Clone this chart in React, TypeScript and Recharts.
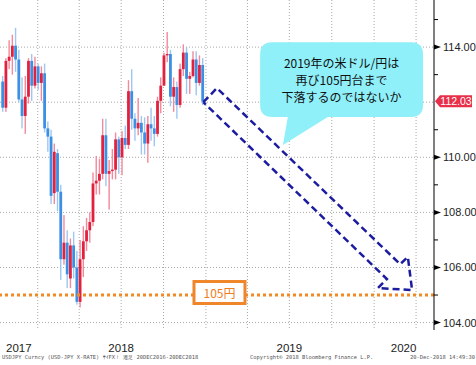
import React from 'react';
import {
  ComposedChart,
  Bar,
  Line,
  XAxis,
  YAxis,
  CartesianGrid,
  ReferenceLine,
  ReferenceArea,
  ReferenceDot,
} from 'recharts';

// Weekly USD/JPY candles, week of 2017-10-09 .. week of 2018-12-17
const openValues = [112.75,111.8,113.5,113.65,114.05,113.55,112.1,111.5,112.2,113.5,112.6,113.3,112.7,113.05,111.05,110.75,108.7,110.15,108.75,106.3,106.9,105.6,106.8,106.0,104.75,106.3,106.95,107.35,107.65,109.05,109.15,109.4,110.8,109.4,109.5,109.55,110.65,110.0,110.7,110.45,112.4,111.4,111.05,111.25,110.9,110.5,111.2,111.05,110.85,112.05,112.6,113.7,113.75,112.2,112.55,111.9,113.2,113.8,112.85,112.95,113.55,112.7,113.35];
const highValues = [112.95,113.6,114.25,114.45,114.7,113.9,112.9,112.95,113.6,113.75,113.65,113.4,113.3,113.4,111.3,111.0,110.5,110.3,109.0,107.9,107.35,107.05,107.3,106.6,107.0,107.5,107.8,108.0,109.45,110.05,109.95,111.4,111.4,109.9,110.3,110.9,110.75,110.95,111.15,112.8,113.2,111.6,112.15,111.5,111.45,111.5,111.8,111.5,112.2,112.9,113.8,114.55,113.9,112.9,112.75,113.4,114.1,114.0,113.1,113.85,113.85,113.7,113.6];
const lowValues = [111.65,111.65,113.2,113.0,113.1,112.0,111.05,110.85,111.95,112.05,112.5,112.45,112.05,110.9,110.2,108.3,108.3,108.05,105.55,106.1,105.25,105.25,105.6,104.65,104.55,105.65,106.6,106.9,107.5,108.65,108.65,109.2,108.95,108.1,109.2,109.2,109.4,109.35,110.3,110.3,111.0,110.6,110.8,110.1,110.1,109.8,110.6,110.4,110.75,111.6,112.6,113.45,111.85,111.65,111.4,111.8,112.95,112.3,112.3,112.9,112.25,112.6,111.9];
const closeValues = [111.8,113.5,113.65,114.05,113.55,112.1,111.5,112.2,113.5,112.6,113.3,112.7,113.05,111.05,110.75,108.6,110.2,108.75,106.3,106.9,105.75,106.8,106.0,104.75,106.3,106.95,107.35,107.65,109.05,109.15,109.4,110.8,109.4,109.5,109.55,110.65,110.0,110.7,110.45,112.4,111.4,111.05,111.25,110.9,110.5,111.2,111.05,110.85,112.05,112.6,113.7,113.75,112.2,112.55,111.9,113.2,113.8,112.85,112.95,113.55,112.7,113.35,112.03];

// Axis setup (x = week index)
const origin = '2017-10-17';
const xDomain: [number, number] = [-0.84, 133.7];
const yDomain: [number, number] = [103.73, 115.71];
const quarterStarts = ['2018-01-01','2018-04-01','2018-07-01','2018-10-01','2019-01-01','2019-04-01','2019-07-01','2019-10-01','2020-01-01','2020-04-01'];
const yearLabels = ['2017','2018','2019','2020'];
const yearLabelDates = ['2017-11-21','2018-07-01','2019-07-01','2020-03-05'];
const majorTicks = [104, 106, 108, 110, 112, 114];
const minorTicks = [105, 107, 109, 111, 113, 115];

// Annotations
const targetLevel = 105;
const targetLabel = '105円';
const targetLabelX = 67.2;
const calloutLines = ['2019年の米ドル/円は', '再び105円台まで', '下落するのではないか'];
const calloutBox = { x1: 79.8, x2: 130.3, y1: 111.46, y2: 114.18 };
const arrowPoints = [
  { x: 62.2, y: 112.0 },
  { x: 66.4, y: 112.51 },
  { x: 123.2, y: 106.12 },
  { x: 125.6, y: 106.38 },
  { x: 126.9, y: 105.18 },
  { x: 116.3, y: 105.25 },
  { x: 119.1, y: 105.58 },
  { x: 62.2, y: 112.0 },
];
const footerLeft = 'USDJPY Curncy (USD-JPY X-RATE) ｻｲFX！ 週足 20DEC2016-20DEC2018';
const footerMid = 'Copyright© 2018 Bloomberg Finance L.P.';
const footerRight = '20-Dec-2018 14:49:30';

const DAY = 86400000;
const toIdx = (d: string) => (Date.parse(d) - Date.parse(origin)) / (7 * DAY);

const candles = openValues.map((o, i) => ({
  x: i,
  open: o,
  high: highValues[i],
  low: lowValues[i],
  close: closeValues[i],
}));
const lastClose = closeValues[closeValues.length - 1];
const yTicks = [...majorTicks, ...minorTicks, lastClose];
const yearTickValues = yearLabelDates.map(toIdx);
const gridX = quarterStarts.map(toIdx);

const UP_BODY = '#e2213f';
const UP_WICK = '#f2899a';
const DN_BODY = '#3d8fe3';
const DN_WICK = '#9dc7f1';

const Candle = (props: any) => {
  const { x, y, width, height, payload } = props;
  if (height == null || !payload) return null;
  const { open, high, low, close } = payload;
  const cx = x + width / 2;
  const ratio = height / (high - low);
  const yO = y + (high - open) * ratio;
  const yC = y + (high - close) * ratio;
  const up = close >= open;
  const top = Math.min(yO, yC);
  const bh = Math.max(1, Math.abs(yC - yO));
  return (
    <g>
      <rect x={cx - 0.7} y={y} width={1.4} height={height} fill={up ? UP_WICK : DN_WICK} />
      <rect x={cx - 1.4} y={top} width={2.8} height={bh} fill={up ? UP_BODY : DN_BODY} />
    </g>
  );
};

const axisFont = "'Liberation Sans Narrow', 'Arial Narrow', 'Liberation Sans', sans-serif";

const YTick = (props: any) => {
  const { x, y, payload } = props;
  const v = payload.value;
  if (v === lastClose) {
    return (
      <g>
        <polygon points={`${x + 1},${y} ${x + 6},${y - 6} ${x + 38},${y - 6} ${x + 38},${y + 6} ${x + 6},${y + 6}`} fill="#e8304a" />
        <text x={x + 22} y={y} textAnchor="middle" dominantBaseline="central" fill="#fff" fontSize={10.5} fontFamily={axisFont}>
          {v.toFixed(2)}
        </text>
      </g>
    );
  }
  if (minorTicks.includes(v)) {
    return <line x1={x} x2={x + 4} y1={y} y2={y} stroke="#000" strokeWidth={1} />;
  }
  if (Math.abs(v - lastClose) < 0.5) {
    // hidden behind the last-price tag
    return <g />;
  }
  return (
    <g>
      <polygon points={`${x},${y - 2.5} ${x + 7},${y} ${x},${y + 2.5}`} fill="#000" />
      <text x={x + 9} y={y} dominantBaseline="central" fill="#222" fontSize={11} fontFamily={axisFont}>
        {v.toFixed(2)}
      </text>
    </g>
  );
};

const XTick = (props: any) => {
  const { x, y, payload, index } = props;
  return (
    <text x={x} y={y + 18} textAnchor="middle" dominantBaseline="central" fill="#222" fontSize={11.5} fontFamily={axisFont}>
      {yearLabels[index] ?? String(payload.value)}
    </text>
  );
};

const Callout = (props: any) => {
  const { x, y, width: w, height: h } = props;
  if (x == null) return null;
  const r = 12;
  const tailL = x + w * 0.17;
  const tailR = x + w * 0.415;
  const tipX = x + w * 0.14;
  const tipY = y + h + 28;
  const d = `M${x + r},${y} H${x + w - r} Q${x + w},${y} ${x + w},${y + r} V${y + h - r} Q${x + w},${y + h} ${x + w - r},${y + h} H${tailR} L${tipX},${tipY} L${tailL},${y + h} H${x + r} Q${x},${y + h} ${x},${y + h - r} V${y + r} Q${x},${y} ${x + r},${y} Z`;
  return (
    <g>
      <path d={d} fill="#8ff0f9" />
      {calloutLines.map((t, k) => (
        <text key={k} x={x + w / 2} y={y + h / 2 + (k - 1) * 17} textAnchor="middle" dominantBaseline="central" fill="#111" fontSize={12} fontFamily="'Noto Sans CJK JP', sans-serif">
          {t}
        </text>
      ))}
    </g>
  );
};

const TargetBox = (props: any) => {
  const { cx, cy } = props;
  if (cx == null) return null;
  return (
    <g>
      <rect x={cx - 25.5} y={cy - 13.5} width={51} height={22} fill="#fff" stroke="#f0862a" strokeWidth={3} />
      <text x={cx} y={cy - 2.5} textAnchor="middle" dominantBaseline="central" fill="#ee7d22" fontSize={12} fontFamily="'Noto Sans CJK JP', sans-serif">
        {targetLabel}
      </text>
    </g>
  );
};

export default function App() {
  return (
    <div style={{ position: 'absolute', left: 0, top: 0, width: 476, height: 365, background: '#fff' }}>
      <ComposedChart width={476} height={365} data={candles} margin={{ top: 0, right: 0, bottom: 0, left: 0 }}>
        <CartesianGrid
          stroke="#a8a8a8"
          strokeDasharray="1 2"
          horizontalValues={majorTicks}
          verticalValues={gridX}
        />
        <XAxis
          dataKey="x"
          type="number"
          domain={xDomain}
          allowDataOverflow
          ticks={yearTickValues}
          interval={0}
          axisLine={false}
          tickLine={false}
          tickSize={0}
          tickMargin={0}
          height={35}
          tick={<XTick />}
        />
        <YAxis
          orientation="right"
          type="number"
          domain={yDomain}
          allowDataOverflow
          ticks={yTicks}
          interval={0}
          width={42}
          axisLine={{ stroke: '#000' }}
          tickLine={false}
          tickSize={0}
          tickMargin={0}
          tick={<YTick />}
        />
        <Bar
          dataKey={(d: any) => [d.low, d.high]}
          barSize={3}
          shape={<Candle />}
          isAnimationActive={false}
        />
        <ReferenceLine y={targetLevel} stroke="#f08a24" strokeWidth={3} strokeDasharray="3 3" />
        <ReferenceDot x={targetLabelX} y={targetLevel} r={1} shape={<TargetBox />} />
        <Line
          data={arrowPoints}
          dataKey="y"
          type="linear"
          stroke="#1c1ca0"
          strokeWidth={2.5}
          strokeDasharray="7 4"
          dot={false}
          activeDot={false}
          isAnimationActive={false}
        />
        <ReferenceArea
          x1={calloutBox.x1}
          x2={calloutBox.x2}
          y1={calloutBox.y1}
          y2={calloutBox.y2}
          shape={<Callout />}
        />
      </ComposedChart>
      <svg width={476} height={365} style={{ position: 'absolute', left: 0, top: 0, pointerEvents: 'none' }}>
        <g fontFamily="'DejaVu Sans Mono', monospace" fontSize={5.4} fill="#555">
          <text x={2} y={359}>{footerLeft}</text>
          <text x={250} y={359}>{footerMid}</text>
          <text x={475} y={359} textAnchor="end">{footerRight}</text>
        </g>
      </svg>
    </div>
  );
}
